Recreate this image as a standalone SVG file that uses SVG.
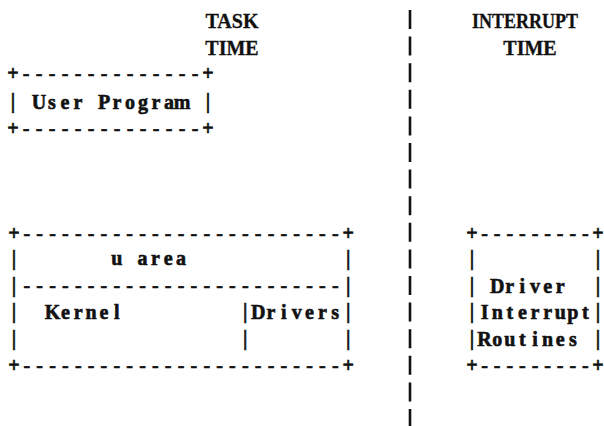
<svg xmlns="http://www.w3.org/2000/svg" width="604" height="426" viewBox="0 0 604 426">
<style>
.bg{fill:#ffffff}
.a{font-family:"Liberation Serif","Times New Roman",serif;font-weight:bold;font-size:20px;fill:#111;stroke:#111;stroke-width:0.6;text-anchor:middle}
.head{font-family:"Liberation Serif","Times New Roman",serif;font-weight:bold;font-size:20px;fill:#111;stroke:#111;stroke-width:0.3;text-anchor:middle}
.divider{stroke:#111;stroke-width:2.6;stroke-dasharray:19 7.6;fill:none}
</style>
<rect class="bg" x="0" y="0" width="604" height="426"/>
<g id="connectors">
  <line class="divider" x1="410" y1="10" x2="410" y2="426"/>
</g>
<g id="task-time">
  <text class="head" x="232" y="28">TASK</text>
  <text class="head" x="232" y="55">TIME</text>
</g>
<g id="interrupt-time">
  <text class="head" x="525" y="28" textLength="106" lengthAdjust="spacingAndGlyphs">INTERRUPT</text>
  <text class="head" x="530" y="55">TIME</text>
</g>
<g id="user-program">
  <text class="a" x="13 26 39 52 65 78 91 104 117 130 143 156 169 182 195 208" y="80">+--------------+</text>
  <text class="a" x="13" y="108">|</text>
  <text class="a" x="39 52 65 78 91 104 117 130 143 156 169 182" y="108.5">User Program</text>
  <text class="a" x="208" y="108">|</text>
  <text class="a" x="13 26 39 52 65 78 91 104 117 130 143 156 169 182 195 208" y="135">+--------------+</text>
</g>
<g id="kernel">
  <text class="a" x="14 26.85 39.7 52.55 65.4 78.25 91.1 103.95 116.8 129.65 142.5 155.35 168.2 181.05 193.9 206.75 219.6 232.45 245.3 258.15 271 283.85 296.7 309.55 322.4 335.25 348.1" y="239.5">+-------------------------+</text>
  <text class="a" x="14" y="265">|</text>
  <text class="a" x="116.8 129.65 142.5 155.35 168.2 181.05" y="265">u area</text>
  <text class="a" x="348.1" y="265">|</text>
  <text class="a" x="14 26.85 39.7 52.55 65.4 78.25 91.1 103.95 116.8 129.65 142.5 155.35 168.2 181.05 193.9 206.75 219.6 232.45 245.3 258.15 271 283.85 296.7 309.55 322.4 335.25 348.1" y="292">|-------------------------|</text>
  <text class="a" x="14" y="318">|</text>
  <text class="a" x="52.55 65.4 78.25 91.1 103.95 116.8" y="319">Kernel</text>
  <text class="a" x="245.3" y="318">|</text>
  <text class="a" x="258.15 271 283.85 296.7 309.55 322.4 335.25" y="319">Drivers</text>
  <text class="a" x="348.1" y="318">|</text>
  <text class="a" x="14" y="344.5">|</text>
  <text class="a" x="245.3" y="344.5">|</text>
  <text class="a" x="348.1" y="344.5">|</text>
  <text class="a" x="14 26.85 39.7 52.55 65.4 78.25 91.1 103.95 116.8 129.65 142.5 155.35 168.2 181.05 193.9 206.75 219.6 232.45 245.3 258.15 271 283.85 296.7 309.55 322.4 335.25 348.1" y="371.5">+-------------------------+</text>
</g>
<g id="driver-interrupt-routines">
  <text class="a" x="472 484.6 497.2 509.8 522.4 535 547.6 560.2 572.8 585.4 598" y="239.5">+---------+</text>
  <text class="a" x="472" y="265">|</text>
  <text class="a" x="598" y="265">|</text>
  <text class="a" x="472" y="292">|</text>
  <text class="a" x="497.2 509.8 522.4 535 547.6 560.2" y="292.5">Driver</text>
  <text class="a" x="598" y="292">|</text>
  <text class="a" x="472" y="318">|</text>
  <text class="a" x="484.6 497.2 509.8 522.4 535 547.6 560.2 572.8 585.4" y="319">Interrupt</text>
  <text class="a" x="598" y="318">|</text>
  <text class="a" x="472" y="344.5">|</text>
  <text class="a" x="484.6 497.2 509.8 522.4 535 547.6 560.2 572.8" y="345.5">Routines</text>
  <text class="a" x="598" y="344.5">|</text>
  <text class="a" x="472 484.6 497.2 509.8 522.4 535 547.6 560.2 572.8 585.4 598" y="371.5">+---------+</text>
</g>
</svg>
